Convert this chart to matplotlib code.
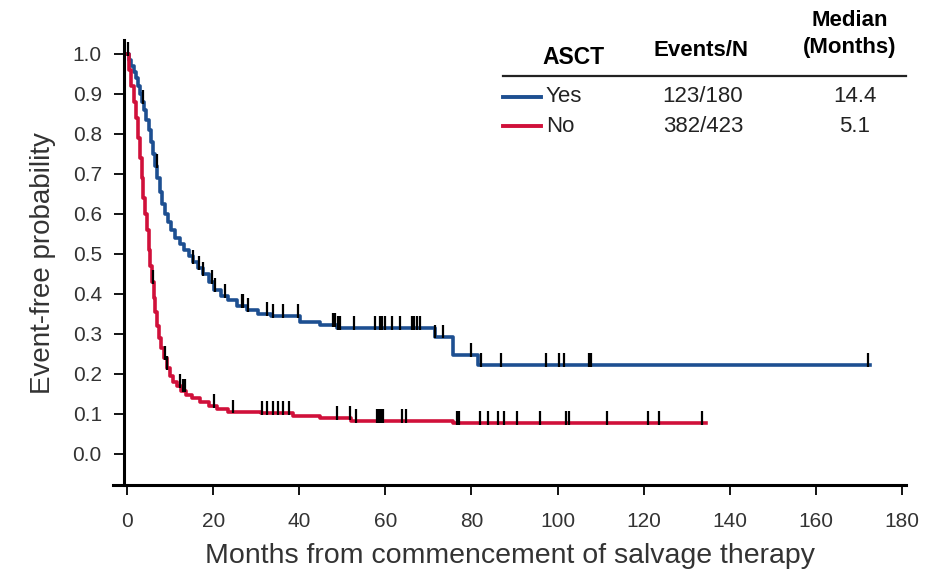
import numpy as np
import matplotlib.pyplot as plt
from matplotlib.lines import Line2D

# Kaplan-Meier step points
yes_t = [0, 0.5, 1.0, 1.5, 2.0, 2.5, 3.0, 3.5, 4.0, 4.5, 5.0, 5.5, 6.0, 6.5, 7.0, 7.6, 8.2,
         8.8, 9.5, 10.3, 11.2, 12.2, 13.2, 14.3, 15.4, 16.5, 17.7, 19.0, 20.3, 21.8, 23.5,
         25.5, 27.8, 30.5, 33.5, 40.2, 44.8, 48.8, 71.5, 75.7, 81.5]
yes_s = [1.0, 0.985, 0.97, 0.955, 0.94, 0.92, 0.90, 0.88, 0.86, 0.835, 0.81, 0.78, 0.75,
         0.72, 0.69, 0.655, 0.625, 0.60, 0.58, 0.56, 0.54, 0.525, 0.51, 0.495, 0.48, 0.465,
         0.45, 0.43, 0.41, 0.395, 0.385, 0.37, 0.36, 0.35, 0.345, 0.33, 0.322, 0.315, 0.293,
         0.247, 0.222]
yes_end = 172.5
yes_cens = [0.3, 3.8, 6.9, 15.4, 16.6, 17.7, 19.7, 20.4, 22.8, 26.6, 26.9, 28.2, 32.4, 33.8,
            36.2, 39.8, 47.9, 48.4, 48.9, 49.5, 52.6, 57.6, 58.8, 59.3, 59.9, 61.5, 63.4,
            66.1, 66.7, 67.3, 68.0, 71.5, 73.5, 80.0, 82.3, 86.9, 97.2, 100.3, 101.5, 107.4,
            107.8, 172.0]

no_t = [0, 0.5, 1.0, 1.5, 2.0, 2.5, 3.0, 3.4, 3.8, 4.2, 4.6, 5.0, 5.4, 5.8, 6.2, 6.6, 7.0,
        7.5, 8.0, 8.6, 9.2, 9.9, 10.7, 11.5, 12.5, 13.8, 15.2, 17, 19, 21, 23.5, 31, 38.6,
        44.8, 52, 75.7]
no_s = [1.0, 0.96, 0.92, 0.88, 0.84, 0.79, 0.74, 0.69, 0.64, 0.60, 0.56, 0.51, 0.47, 0.43,
        0.39, 0.355, 0.32, 0.29, 0.265, 0.24, 0.215, 0.195, 0.18, 0.17, 0.158, 0.148, 0.14,
        0.13, 0.12, 0.112, 0.106, 0.102, 0.096, 0.089, 0.082, 0.077]
no_end = 134.5
no_cens = [6.0, 8.8, 9.2, 12.3, 12.9, 13.5, 20.3, 24.5, 31.3, 32.6, 33.8, 35.1, 36.3, 37.6,
           48.8, 51.9, 53.2, 58.0, 58.5, 59.0, 59.5, 63.8, 64.8, 76.6, 77.0, 82.0, 83.8,
           86.2, 87.5, 90.5, 96.0, 102.0, 102.6, 111.4, 121.0, 123.5, 133.5]

groups = ['Yes', 'No']
events = ['123/180', '382/423']
medians = ['14.4', '5.1']
colors = ['#1d4f91', '#d0103a']

plt.rcParams['font.family'] = ['Liberation Sans', 'DejaVu Sans']

fig = plt.figure(figsize=(9.28, 5.78), dpi=100)
ax = fig.add_axes([0.1216, 0.1606, 0.855, 0.7702])


def draw_km(t, s, end, cens, color):
    ax.step(t + [end], s + [s[-1]], where='post', color=color, lw=2.6, zorder=2)
    idx = np.searchsorted(np.array(t), np.array(cens), side='right') - 1
    sv = np.array(s)[idx]
    ax.vlines(cens, sv - 0.004, sv + 0.03, color='black', lw=1.6, zorder=3)


draw_km(yes_t, yes_s, yes_end, yes_cens, colors[0])
draw_km(no_t, no_s, no_end, no_cens, colors[1])

ax.set_xlim(-3.3, 181)
ax.set_ylim(-0.078, 1.035)
ax.set_xticks(np.arange(0, 181, 20))
ax.set_yticks(np.arange(0, 1.01, 0.1))
ax.set_yticklabels(['%.1f' % v for v in np.arange(0, 1.01, 0.1)])
for sp in ['top', 'right']:
    ax.spines[sp].set_visible(False)
ax.spines['left'].set_position(('data', -0.7))
ax.spines['left'].set_linewidth(2.2)
ax.spines['bottom'].set_linewidth(2.2)
ax.tick_params(length=7, width=1.3, labelsize=15, labelcolor='#333333')
ax.tick_params(axis='x', pad=12)
ax.tick_params(axis='y', pad=9)

ax.set_xlabel('Months from commencement of salvage therapy', fontsize=20.5,
              color='#333333', labelpad=9)
ax.set_ylabel('Event-free probability', fontsize=20, color='#333333', labelpad=12)

# legend table
W, H = 928, 578


def ft(x, y, s, size=16, **kw):
    fig.text(x / W, 1 - y / H, s, fontsize=size, va='center', **kw)


ft(573, 58, 'ASCT', size=16.5, ha='center', weight='bold')
ft(701, 50, 'Events/N', size=16, ha='center', weight='bold')
ft(850, 20, 'Median', size=16, ha='center', weight='bold')
ft(850, 48, '(Months)', size=16, ha='center', weight='bold')
fig.add_artist(Line2D([503 / W, 906 / W], [1 - 76 / H, 1 - 76 / H],
                      transform=fig.transFigure, color='#222222', lw=1.6))
for i, g in enumerate(groups):
    y = 97 + i * 29
    fig.add_artist(Line2D([503 / W, 541 / W], [1 - y / H, 1 - y / H],
                          transform=fig.transFigure, color=colors[i], lw=2.8))
    ft(546, y, g, ha='left', color='#222222')
    ft(703, y, events[i], ha='center', color='#222222')
    ft(855, y, medians[i], ha='center', color='#222222')

fig.savefig('out.png', dpi=100)
